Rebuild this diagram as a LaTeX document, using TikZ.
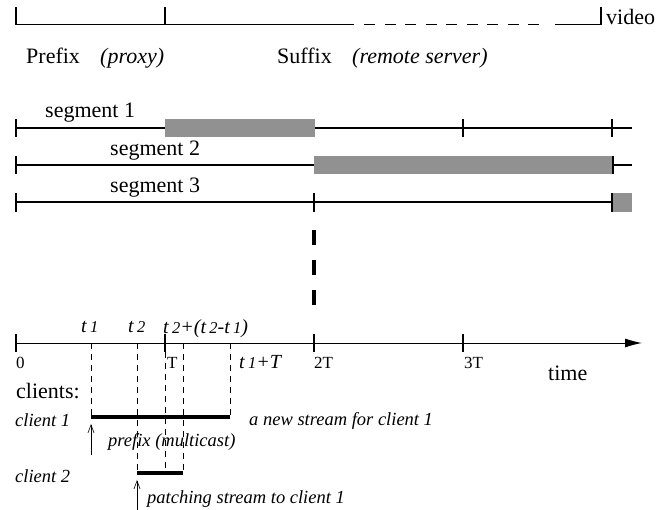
\documentclass[tikz,border=0pt]{standalone}
\usepackage{fontspec}
\setmainfont{Liberation Serif}
\usetikzlibrary{arrows.meta}
\begin{document}
\begin{tikzpicture}[x=1pt,y=-1pt,
  lbl/.style={inner sep=0pt, anchor=base west, font=\fontsize{22}{24}\selectfont},
  ilbl/.style={inner sep=0pt, anchor=base west, font=\fontsize{22}{24}\selectfont\itshape},
  clbl/.style={inner sep=0pt, anchor=base west, font=\fontsize{18.5}{20}\selectfont\itshape},
  tlbl/.style={inner sep=0pt, anchor=base west, font=\fontsize{20}{22}\selectfont\itshape},
  slbl/.style={inner sep=0pt, anchor=base west, font=\fontsize{17}{20}\selectfont},
  bar/.style={line width=1.2pt},
  segline/.style={line width=1.2pt},
  segbox/.style={fill=black!43, draw=none},
  guide/.style={line width=0.6pt, dash pattern=on 6pt off 5pt},
  stream/.style={line width=3.2pt},
  arrival/.style={line width=0.6pt, -{Straight Barb[length=8pt,width=6pt]}}]
\useasboundingbox (0,0) rectangle (663,510);
\newcommand{\tv}[1]{\textit{t}\,{\fontsize{16.5}{16.5}\selectfont\itshape #1}}
% top video bar
\coordinate (vs) at (16,7);
\coordinate (v0) at (16,24.5);
\coordinate (vp) at (165,24.5);
\coordinate (vpt) at (165,7);
\coordinate (va) at (354,24.5);
\coordinate (vb) at (364,24.5);
\coordinate (vc) at (545,24.5);
\coordinate (vd) at (555,24.5);
\coordinate (ve) at (601,24.5);
\coordinate (vet) at (601,7);
\draw[bar] (vs) -- (v0) -- (va);
\draw[bar] (vpt) -- (vp);
\draw[bar, dash pattern=on 11pt off 9.5pt] (vb) -- (vc);
\draw[bar] (vd) -- (ve) -- (vet);
\node[lbl] (video) at (606,25) {video};
\node[lbl] (prefix) at (26,64) {Prefix};
\node[ilbl] (proxy) at (100,64) {(proxy)};
\node[lbl] (suffix) at (277,64) {Suffix};
\node[ilbl] (remote) at (352,64) {(remote server)};
% segment 1
\draw[segline] (16,128) -- (632,128);
\fill[segbox] (165,119) rectangle (315,137);
\foreach \x in {16,463,612} \draw[segline] (\x,119) -- (\x,137);
\node[lbl] (seg1) at (45,118) {segment 1};
% segment 2
\draw[segline] (16,165) -- (632,165);
\fill[segbox] (314,156) rectangle (613,174);
\foreach \x in {16,613} \draw[segline] (\x,156) -- (\x,174);
\node[lbl] (seg2) at (110,156) {segment 2};
% segment 3
\draw[segline] (16,202) -- (632,202);
\fill[segbox] (612,193) rectangle (632,212);
\foreach \x in {16,314,612} \draw[segline] (\x,193) -- (\x,212);
\node[lbl] (seg3) at (110,193) {segment 3};
% thick dashed marker
\coordinate (m1) at (314,230);
\coordinate (m2) at (314,305);
\draw[line width=4pt, dash pattern=on 15pt off 15pt] (m1) -- (m2);
% time axis
\coordinate (a0) at (16,343);
\coordinate (aend) at (642,343);
\draw[line width=1pt, -{Latex[length=17pt,width=9pt]}] (a0) -- (aend);
\foreach \x in {16,165,314,463} \draw[line width=1.2pt] (\x,334) -- (\x,352);
\node[slbl] (l0) at (16,368) {0};
\node[slbl] (lT) at (167,368) {T};
\node[slbl] (l2T) at (314,368) {2T};
\node[slbl] (l3T) at (464,368) {3T};
\node[lbl] (ltime) at (548,380) {time};
\node[tlbl] (lt1T) at (239,368) {\tv{1}+\textit{T}};
\node[tlbl] (lt1) at (81,332) {\tv{1}};
\node[tlbl] (lt2) at (128,332) {\tv{2}};
\node[tlbl] (lt21) at (163,333) {\tv{2}+(\tv{2}-\tv{1})};
% guides
\coordinate (g1a) at (91,343);   \coordinate (g1b) at (91,417);
\coordinate (g2a) at (137,343);  \coordinate (g2b) at (137,473);
\coordinate (gTa) at (165,352);  \coordinate (gTb) at (165,473);
\coordinate (g3a) at (183,343);  \coordinate (g3b) at (183,473);
\coordinate (g4a) at (230,343);  \coordinate (g4b) at (230,417);
\draw[guide] (g1a) -- (g1b);
\draw[guide] (g2a) -- (g2b);
\draw[guide] (gTa) -- (gTb);
\draw[guide] (g3a) -- (g3b);
\draw[guide] (g4a) -- (g4b);
% clients
\node[lbl] (clients) at (16,398) {clients:};
\node[clbl] (c1) at (15,426) {client 1};
\node[clbl] (c2) at (15,482) {client 2};
\draw[stream] (g1b) -- (g4b);
\draw[stream] (g2b) -- (g3b);
\coordinate (ar1s) at (91,455); \coordinate (ar1e) at (91,424);
\coordinate (ar2s) at (137,510); \coordinate (ar2e) at (137,480);
\draw[arrival] (ar1s) -- (ar1e);
\draw[arrival] (ar2s) -- (ar2e);
\node[clbl] (newstream) at (249,425) {a new stream for client 1};
\node[clbl] (prefmc) at (108,446) {prefix (multicast)};
\node[clbl] (patch) at (147,503) {patching stream to client 1};
\end{tikzpicture}
\end{document}
